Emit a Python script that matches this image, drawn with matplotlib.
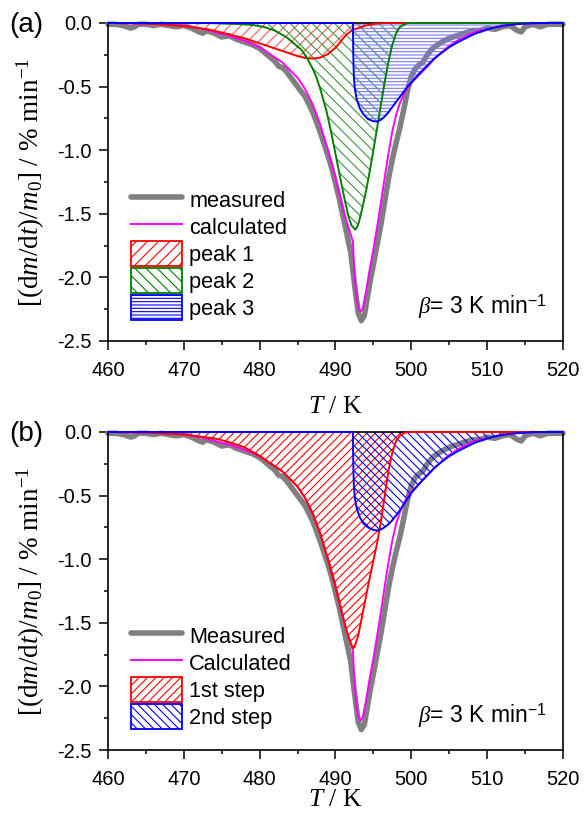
import numpy as np
import matplotlib
matplotlib.use('Agg')
import matplotlib.pyplot as plt
from matplotlib.patches import Patch
from matplotlib.lines import Line2D
from matplotlib.ticker import MultipleLocator, FormatStrFormatter

plt.rcParams['font.family'] = ['Liberation Sans', 'DejaVu Sans']
plt.rcParams['axes.unicode_minus'] = False
plt.rcParams['mathtext.fontset'] = 'custom'
plt.rcParams['mathtext.rm'] = 'Liberation Serif'
plt.rcParams['mathtext.it'] = 'Liberation Serif:italic'
plt.rcParams['mathtext.sf'] = 'Liberation Sans'
plt.rcParams['hatch.linewidth'] = 0.8

# ---------------- data ----------------
T_meas = [460, 461, 462, 463, 463.5, 464, 465, 466, 467, 468,
          469, 470, 471, 472, 472.5, 473, 474, 475, 476, 477,
          478, 479, 480, 481, 482, 482.5, 483, 483.5, 484, 485,
          486, 487, 488, 489, 489.5, 490, 490.5, 491, 491.5, 492,
          492.5, 493, 493.4, 493.8, 494.2, 494.6, 495, 495.5, 496, 496.5,
          497, 497.5, 498, 498.5, 499, 499.5, 500, 500.5, 501, 501.5,
          502, 502.5, 503, 504, 505, 506, 507, 508, 509, 510,
          511, 512, 513, 514, 514.5, 515, 516, 517, 518, 519,
          520]
v_meas = [-0.01, -0.01, -0.02, -0.04, -0.03, -0.01, -0.01, -0.02, -0.01, -0.02,
          -0.03, -0.02, -0.04, -0.07, -0.08, -0.06, -0.08, -0.11, -0.10, -0.13,
          -0.15, -0.17, -0.20, -0.25, -0.30, -0.34, -0.35, -0.38, -0.42, -0.50,
          -0.58, -0.70, -0.86, -1.04, -1.14, -1.26, -1.38, -1.52, -1.66, -1.80,
          -2.05, -2.28, -2.34, -2.30, -2.16, -2.02, -1.90, -1.74, -1.58, -1.40,
          -1.22, -1.07, -0.94, -0.82, -0.68, -0.53, -0.42, -0.36, -0.33, -0.31,
          -0.26, -0.22, -0.19, -0.15, -0.12, -0.10, -0.08, -0.06, -0.06, -0.04,
          -0.05, -0.03, -0.02, -0.06, -0.07, -0.03, -0.01, -0.03, -0.01, -0.01,
          -0.01]

T_calc = [460, 465, 470, 472, 474, 476, 478, 480, 481, 482,
          483, 484, 485, 486, 487, 488, 489, 490, 490.5, 491,
          491.5, 492, 492.3, 492.5, 492.8, 493.0, 493.3, 493.6, 494.0, 494.5,
          495.0, 495.5, 496.0, 496.5, 497.0, 497.5, 498.0, 498.5, 499.0, 499.5,
          500, 501, 502, 503, 504, 505, 506, 507, 508, 509,
          510, 511, 512, 514, 516, 520]
v_calc = [0, -0.005, -0.02, -0.04, -0.07, -0.10, -0.14, -0.19, -0.23, -0.27,
          -0.31, -0.37, -0.43, -0.52, -0.64, -0.80, -1.00, -1.22, -1.34, -1.46,
          -1.57, -1.66, -1.72, -1.98, -2.17, -2.24, -2.27, -2.24, -2.12, -1.94,
          -1.78, -1.60, -1.41, -1.21, -1.02, -0.85, -0.72, -0.63, -0.56, -0.51,
          -0.47, -0.41, -0.35, -0.285, -0.23, -0.18, -0.14, -0.11, -0.08, -0.06,
          -0.05, -0.035, -0.022, -0.008, -0.002, 0]

# panel (a) peaks
T_p1 = [460, 464, 467, 470, 472, 474, 476, 478, 480, 482,
        484, 485, 486, 487, 488, 489, 490, 490.5, 491, 491.5,
        492, 492.3, 493, 494, 495, 496, 497, 520]
v_p1 = [0, -0.003, -0.01, -0.025, -0.04, -0.06, -0.09, -0.12, -0.16, -0.20,
        -0.24, -0.26, -0.275, -0.28, -0.272, -0.245, -0.195, -0.16, -0.12, -0.09,
        -0.065, -0.055, -0.04, -0.02, -0.008, -0.002, 0, 0]

T_p2 = [460, 470, 474, 477, 479, 480.5, 482, 483.5, 484.5, 485.5,
        486.2, 487, 487.5, 488, 488.8, 489.5, 490.1, 490.7, 491.25, 491.7,
        492.1, 492.6, 492.9, 493.2, 493.6, 494.1, 494.5, 495.0, 495.5, 496.0,
        496.5, 497.0, 497.5, 498.0, 498.5, 499.5, 520]
v_p2 = [0, 0, -0.002, -0.008, -0.015, -0.03, -0.06, -0.11, -0.16, -0.21,
        -0.27, -0.36, -0.43, -0.52, -0.69, -0.88, -1.06, -1.24, -1.40, -1.52,
        -1.59, -1.625, -1.60, -1.54, -1.44, -1.30, -1.17, -1.00, -0.82, -0.64,
        -0.46, -0.30, -0.17, -0.08, -0.03, 0, 0]

T_p3 = [460, 492.3, 492.32, 492.36, 492.42, 492.55, 492.8, 493.2, 493.7, 494.3,
        495.0, 495.5, 496.0, 496.5, 497.0, 497.5, 498.0, 498.5, 499.0, 499.5,
        500, 501, 502, 503, 504, 505, 506, 507, 508, 509,
        510, 511, 512, 513, 514, 515, 516, 517, 520]
v_p3 = [0, 0, -0.15, -0.30, -0.42, -0.52, -0.60, -0.67, -0.72, -0.755,
        -0.772, -0.775, -0.76, -0.735, -0.70, -0.66, -0.62, -0.58, -0.54, -0.50,
        -0.47, -0.40, -0.34, -0.28, -0.235, -0.19, -0.155, -0.125, -0.095, -0.07,
        -0.05, -0.035, -0.024, -0.015, -0.009, -0.005, -0.002, 0, 0]

# panel (b) steps
T_s1 = [460, 465, 470, 472, 474, 476, 478, 480, 481, 482,
        483, 484, 485, 486, 487, 488, 489, 490, 490.5, 491,
        491.5, 492, 492.3, 492.5, 493, 493.5, 494, 494.5, 495, 495.5,
        496, 496.5, 497, 497.5, 498, 498.5, 499, 499.5, 520]
v_s1 = [0, -0.005, -0.02, -0.035, -0.05, -0.08, -0.12, -0.19, -0.23, -0.27,
        -0.31, -0.37, -0.43, -0.52, -0.64, -0.80, -1.00, -1.22, -1.34, -1.46,
        -1.57, -1.66, -1.70, -1.69, -1.60, -1.45, -1.30, -1.15, -1.01, -0.87,
        -0.70, -0.50, -0.30, -0.16, -0.07, -0.03, -0.01, 0, 0]

T_s2 = [460, 492.3, 492.32, 492.36, 492.42, 492.55, 492.8, 493.2, 493.7, 494.3,
        495.0, 495.6, 496.2, 496.8, 497.4, 498.0, 498.5, 499.0, 499.5, 500,
        501, 502, 503, 504, 505, 506, 507, 508, 509, 510,
        511, 512, 513, 514, 515, 516, 517, 520]
v_s2 = [0, 0, -0.15, -0.30, -0.42, -0.52, -0.60, -0.67, -0.72, -0.75,
        -0.77, -0.775, -0.76, -0.735, -0.70, -0.655, -0.615, -0.57, -0.525, -0.48,
        -0.41, -0.345, -0.285, -0.235, -0.19, -0.155, -0.125, -0.095, -0.07, -0.05,
        -0.035, -0.024, -0.015, -0.009, -0.005, -0.002, 0, 0]

labels_a = ['measured', 'calculated', 'peak 1', 'peak 2', 'peak 3']
labels_b = ['Measured', 'Calculated', '1st step', '2nd step']

# ---------------- styling ----------------
GRAY = '#808080'
MAG = '#ff00ff'
RED = '#ff0000'
GREEN = '#008000'
BLUE = '#0000ff'

W, H = 584, 818
fig = plt.figure(figsize=(W / 100, H / 100), dpi=100)
ax_a = fig.add_axes([108 / W, 1 - 341 / H, 455 / W, 318 / H])
ax_b = fig.add_axes([108 / W, 1 - 750 / H, 455 / W, 318 / H])

TICK_FS = 14.5
LEG_FS = 15.7


def style_axes(ax, xlab_y):
    ax.set_xlim(460, 520)
    ax.set_ylim(-2.5, 0.0)
    ax.xaxis.set_major_locator(MultipleLocator(10))
    ax.xaxis.set_minor_locator(MultipleLocator(5))
    ax.yaxis.set_major_locator(MultipleLocator(0.5))
    ax.yaxis.set_minor_locator(MultipleLocator(0.25))
    ax.yaxis.set_major_formatter(FormatStrFormatter('%.1f'))
    ax.tick_params(which='major', direction='out', length=6.5, width=1.1,
                   labelsize=TICK_FS, top=False, right=False)
    ax.tick_params(axis='x', which='major', pad=8)
    ax.tick_params(axis='y', which='major', pad=5)
    ax.tick_params(which='minor', direction='out', length=3, width=1.1,
                   top=False, right=False)
    for s in ax.spines.values():
        s.set_linewidth(1.2)
    ax.set_xlabel(r'$T$ / K', fontfamily='Liberation Serif', fontsize=18.5)
    ax.xaxis.set_label_coords(0.5, xlab_y)
    ax.set_ylabel(r'$[(\mathrm{d}m/\mathrm{d}t)/m_0]$ / % min$^{-1}$',
                  fontfamily='Liberation Serif', fontsize=19.5)
    ax.yaxis.set_label_coords(-0.134, 0.5)
    ax.text(0.964, 0.108, r'$\beta$= 3 K min$^{\mathsf{-1}}$', transform=ax.transAxes,
            ha='right', va='center', fontsize=16.5)


def line(ax, T, v, color, lw, z):
    ax.plot(T, v, color=color, lw=lw, zorder=z, clip_on=False,
            solid_capstyle='round', solid_joinstyle='round')


def hatch(ax, T, v, color, h, z):
    ax.fill_between(T, v, 0, facecolor='none', edgecolor=color, hatch=h,
                    linewidth=0, zorder=z)


def legend(ax, handles, labels):
    ax.legend(handles, labels, loc='lower left', bbox_to_anchor=(0.05, 0.066),
              frameon=False, fontsize=LEG_FS, borderpad=0, borderaxespad=0,
              handlelength=2.35, handleheight=1.4, handletextpad=0.33,
              labelspacing=0.08)


# panel (a)
ax = ax_a
line(ax, T_meas, v_meas, GRAY, 4.0, 2)
hatch(ax, T_p1, v_p1, '#ff5a5a', '///', 2.2)
hatch(ax, T_p2, v_p2, '#3c963c', '\\\\\\', 2.2)
hatch(ax, T_p3, v_p3, '#7878ff', '-----', 2.2)
line(ax, T_calc, v_calc, MAG, 1.4, 3)
line(ax, T_p1, v_p1, RED, 1.4, 3.2)
line(ax, T_p2, v_p2, GREEN, 1.4, 3.2)
line(ax, T_p3, v_p3, BLUE, 1.4, 3.3)
style_axes(ax, -0.172)
handles_a = [Line2D([], [], color=GRAY, lw=4.0, solid_capstyle='round'),
             Line2D([], [], color=MAG, lw=1.4),
             Patch(facecolor='white', edgecolor=RED, hatch='///', lw=1.3),
             Patch(facecolor='white', edgecolor=GREEN, hatch='\\\\\\', lw=1.3),
             Patch(facecolor='white', edgecolor=BLUE, hatch='-----', lw=1.3)]
legend(ax, handles_a, labels_a)

# panel (b)
ax = ax_b
line(ax, T_meas, v_meas, GRAY, 4.0, 2)
hatch(ax, T_s1, v_s1, RED, '////', 2.2)
hatch(ax, T_s2, v_s2, BLUE, '\\\\\\\\', 2.2)
line(ax, T_calc, v_calc, MAG, 1.4, 3)
line(ax, T_s1, v_s1, RED, 1.4, 3.2)
line(ax, T_s2, v_s2, BLUE, 1.4, 3.3)
style_axes(ax, -0.123)
handles_b = [Line2D([], [], color=GRAY, lw=4.0, solid_capstyle='round'),
             Line2D([], [], color=MAG, lw=1.4),
             Patch(facecolor='white', edgecolor=RED, hatch='////', lw=1.3),
             Patch(facecolor='white', edgecolor=BLUE, hatch='\\\\\\\\', lw=1.3)]
legend(ax, handles_b, labels_b)

fig.text(26 / W, 1 - 25 / H, '(a)', fontsize=20, ha='center', va='center')
fig.text(26 / W, 1 - 434 / H, '(b)', fontsize=20, ha='center', va='center')

fig.savefig('out.png', dpi=100)
